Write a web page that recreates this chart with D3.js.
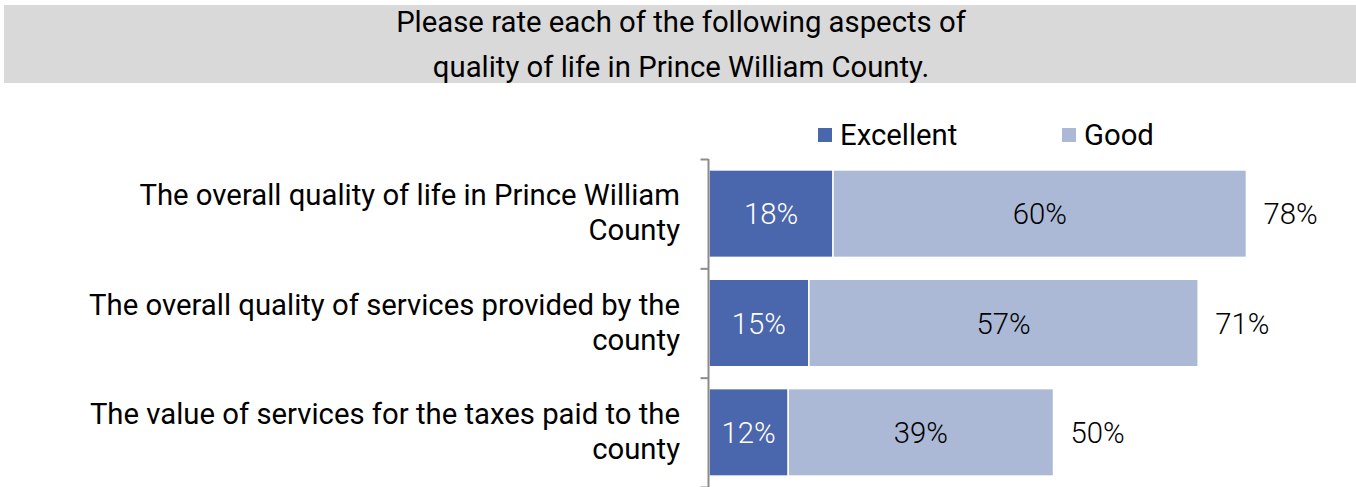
<!DOCTYPE html>
<html><head><meta charset="utf-8">
<script src="https://cdn.jsdelivr.net/npm/d3@7"></script>
<style>body{margin:0;background:#fff;}svg{display:block;font-family:Roboto,"Noto Sans",sans-serif;}</style>
</head><body>
<svg id="c" width="1356" height="487"></svg>
<script>
const titleLines = ["Please rate each of the following aspects of", "quality of life in Prince William County."];
const categories = [
  ["The overall quality of life in Prince William", "County"],
  ["The overall quality of services provided by the", "county"],
  ["The value of services for the taxes paid to the", "county"]
];
const seriesNames = ["Excellent", "Good"];
const excellent = [18, 14.5, 11.5];
const good = [60, 56.5, 38.5];
const colors = ["#4A66AC", "#ABB9D6"];

const svg = d3.select("#c");
const fs = 29.3;

// Title banner
svg.append("rect").attr("x", 4).attr("y", 5).attr("width", 1352).attr("height", 78).attr("fill", "#D9D9D9");
svg.append("g").selectAll("text").data(titleLines).join("text")
  .attr("x", 681).attr("y", (d, i) => 32 + i * 45)
  .attr("text-anchor", "middle").attr("font-size", fs).attr("fill", "#000").text(d => d);

const x = d3.scaleLinear().domain([0, 100]).range([709, 1398]);
const y = d3.scaleBand().domain(d3.range(categories.length)).range([159, 487]).paddingInner(0.2).paddingOuter(0.1);

// Bars
const rows = categories.map((c, i) => ({i, e: excellent[i], g: good[i]}));
const g = svg.append("g");
rows.forEach(r => {
  const y0 = y(r.i), h = y.bandwidth();
  g.append("rect").attr("x", x(0)).attr("y", y0).attr("width", x(r.e) - x(0)).attr("height", h)
    .attr("fill", colors[0]).attr("stroke", "#fff").attr("stroke-width", 1.5);
  g.append("rect").attr("x", x(r.e)).attr("y", y0).attr("width", x(r.e + r.g) - x(r.e)).attr("height", h)
    .attr("fill", colors[1]).attr("stroke", "#fff").attr("stroke-width", 1.5);
  const cy = y0 + h / 2 + fs * 0.36;
  g.append("text").attr("x", (x(0) + x(r.e)) / 2).attr("y", cy).attr("text-anchor", "middle")
    .attr("font-size", fs).attr("font-weight", 300).attr("fill", "#fff").text(Math.round(r.e) + "%");
  g.append("text").attr("x", (x(r.e) + x(r.e + r.g)) / 2).attr("y", cy).attr("text-anchor", "middle")
    .attr("font-size", fs).attr("font-weight", 300).attr("fill", "#000").text(Math.round(r.g) + "%");
  g.append("text").attr("x", x(r.e + r.g) + 17).attr("y", cy).attr("text-anchor", "start")
    .attr("font-size", fs).attr("font-weight", 300).attr("fill", "#000").text(Math.round(r.e + r.g) + "%");
});

// Axis
const yAxis = d3.axisLeft(d3.scaleLinear().domain([0, 3]).range([159, 487])).tickValues([0,1,2,3]).tickSize(8).tickFormat("");
const ax = svg.append("g").attr("transform", "translate(708.5,0)").call(yAxis);
ax.select(".domain").attr("stroke", "#8C8C8C").attr("stroke-width", 2).attr("d", "M0,159V487");
ax.selectAll(".tick line").attr("stroke", "#8C8C8C").attr("stroke-width", 2);

// Category labels
categories.forEach((c, i) => {
  const cy = y(i) + y.bandwidth() / 2;
  svg.append("g").selectAll("text").data(c).join("text")
    .attr("x", 680).attr("y", (d, j) => cy + fs * 0.36 - 1.5 + (j - 0.5) * 35)
    .attr("text-anchor", "end").attr("font-size", fs).attr("fill", "#000").text(d => d);
});

// Legend
const legX = [818, 1062];
seriesNames.forEach((n, i) => {
  svg.append("rect").attr("x", legX[i]).attr("y", 128).attr("width", 14).attr("height", 14).attr("fill", colors[i]);
  svg.append("text").attr("x", legX[i] + 22).attr("y", 145).attr("font-size", fs).attr("fill", "#000").text(n);
});
</script>
</body></html>
